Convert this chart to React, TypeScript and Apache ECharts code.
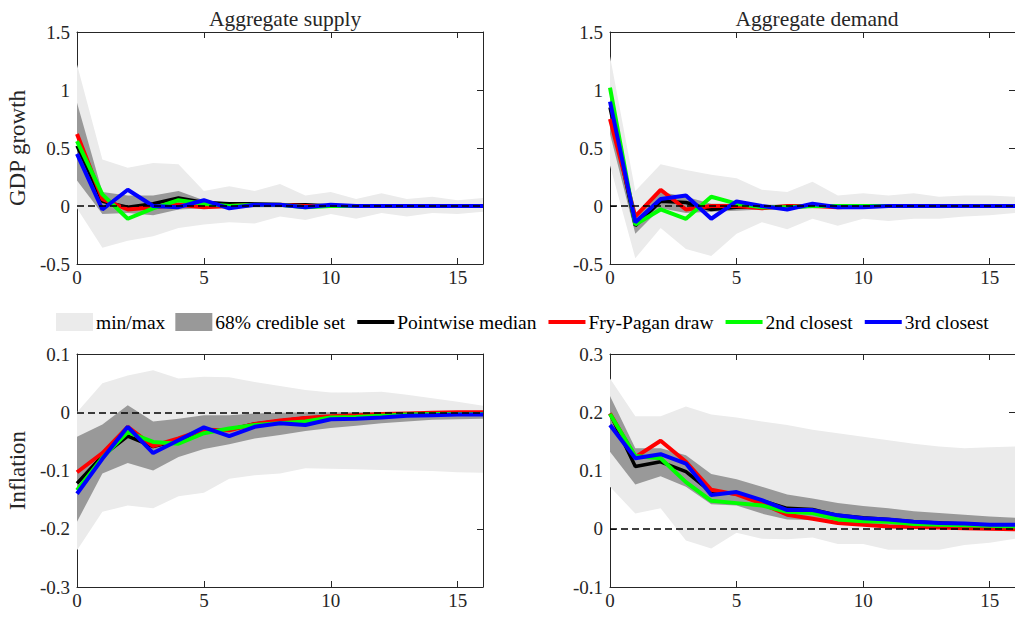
import React, { useEffect, useRef } from "react";
import * as echarts from "echarts";

const horizons = [0, 1, 2, 3, 4, 5, 6, 7, 8, 9, 10, 11, 12, 13, 14, 15, 16];
const panelTitles = ["Aggregate supply", "Aggregate demand"];
const rowNames = ["GDP growth", "Inflation"];
const legendNames = ["min/max", "68% credible set", "Pointwise median", "Fry-Pagan draw", "2nd closest", "3rd closest"];

// GDP growth, aggregate supply
const gsMinU = [1.22, 0.40, 0.33, 0.37, 0.36, 0.13, 0.17, 0.13, 0.19, 0.09, 0.12, 0.06, 0.11, 0.06, 0.08, 0.05, 0.07];
const gsMinL = [-0.02, -0.36, -0.30, -0.26, -0.19, -0.16, -0.14, -0.15, -0.09, -0.12, -0.07, -0.11, -0.06, -0.09, -0.06, -0.07, -0.05];
const gsCiU = [0.89, 0.12, 0.09, 0.09, 0.13, 0.05, 0.03, 0.03, 0.02, 0.02, 0.02, 0.01, 0.01, 0.01, 0.01, 0.01, 0.01];
const gsCiL = [0.22, -0.07, -0.06, -0.08, -0.03, -0.02, -0.02, -0.01, -0.01, -0.01, -0.01, -0.01, -0.01, -0.01, -0.01, -0.01, -0.01];
const gsMed = [0.52, 0.04, -0.01, 0.02, 0.07, 0.03, 0.02, 0.02, 0.01, 0.01, 0, 0, 0, 0, 0, 0, 0];
const gsFP = [0.62, 0.06, -0.03, -0.01, 0.01, -0.01, 0, 0.01, 0.01, 0, 0, 0, 0, 0, 0, 0, 0];
const gs2nd = [0.56, 0.10, -0.11, -0.02, 0.05, 0.02, 0, 0.01, 0.01, -0.01, 0, 0, 0, 0, 0, 0, 0];
const gs3rd = [0.45, -0.03, 0.14, 0.0, -0.01, 0.05, -0.02, 0.01, 0.01, -0.01, 0.01, 0, 0, 0, 0, 0, 0];

// GDP growth, aggregate demand
const gdMinU = [1.29, 0.13, 0.36, 0.31, 0.27, 0.24, 0.14, 0.12, 0.21, 0.09, 0.11, 0.09, 0.11, 0.08, 0.09, 0.09, 0.08];
const gdMinL = [0.35, -0.45, -0.19, -0.37, -0.43, -0.24, -0.14, -0.20, -0.11, -0.17, -0.11, -0.13, -0.11, -0.11, -0.09, -0.08, -0.06];
const gdCiU = [1.0, -0.09, 0.12, 0.08, 0.02, 0.02, 0.01, 0.01, 0.01, 0.01, 0.01, 0.01, 0.01, 0.01, 0.01, 0.01, 0.01];
const gdCiL = [0.62, -0.24, -0.02, -0.06, -0.05, -0.04, -0.03, -0.02, -0.02, -0.01, -0.01, -0.01, -0.01, -0.01, -0.01, -0.01, -0.01];
const gdMed = [0.85, -0.17, 0.04, 0.03, -0.03, -0.01, -0.01, -0.01, 0, 0, 0, 0, 0, 0, 0, 0, 0];
const gdFP = [0.75, -0.09, 0.14, -0.03, 0, 0, -0.02, 0, 0, -0.01, 0, 0, 0, 0, 0, 0, 0];
const gd2nd = [1.02, -0.16, -0.03, -0.11, 0.08, 0.02, -0.01, -0.01, 0, 0, 0, 0, 0, 0, 0, 0, 0];
const gd3rd = [0.90, -0.14, 0.06, 0.09, -0.11, 0.04, 0, -0.03, 0.02, -0.01, -0.01, 0, 0, 0, 0, 0, 0];

// Inflation, aggregate supply
const isMinU = [0.0, 0.05, 0.063, 0.072, 0.058, 0.061, 0.06, 0.052, 0.045, 0.038, 0.034, 0.034, 0.035, 0.03, 0.024, 0.018, 0.011];
const isMinL = [-0.237, -0.171, -0.16, -0.165, -0.144, -0.138, -0.114, -0.108, -0.105, -0.096, -0.097, -0.098, -0.099, -0.1, -0.101, -0.103, -0.104];
const isCiU = [-0.042, -0.021, 0.012, -0.016, -0.011, -0.005, -0.005, -0.002, -0.001, 0, 0, 0, 0, 0, 0, 0, 0];
const isCiL = [-0.188, -0.105, -0.087, -0.1, -0.077, -0.063, -0.055, -0.045, -0.039, -0.032, -0.027, -0.023, -0.019, -0.016, -0.013, -0.012, -0.011];
const isMed = [-0.122, -0.075, -0.041, -0.059, -0.048, -0.031, -0.03, -0.02, -0.015, -0.01, -0.008, -0.006, -0.005, -0.003, -0.002, -0.001, -0.001];
const isFP = [-0.103, -0.07, -0.025, -0.058, -0.045, -0.03, -0.031, -0.02, -0.014, -0.01, -0.007, -0.005, -0.003, -0.002, -0.001, 0, 0];
const is2nd = [-0.134, -0.078, -0.034, -0.051, -0.054, -0.036, -0.028, -0.022, -0.019, -0.016, -0.009, -0.008, -0.006, -0.004, -0.003, -0.003, -0.003];
const is3rd = [-0.14, -0.08, -0.025, -0.07, -0.048, -0.026, -0.041, -0.025, -0.019, -0.022, -0.012, -0.011, -0.009, -0.006, -0.005, -0.004, -0.004];

// Inflation, aggregate demand
const idMinU = [0.258, 0.193, 0.193, 0.21, 0.196, 0.191, 0.184, 0.178, 0.17, 0.164, 0.158, 0.152, 0.146, 0.141, 0.138, 0.14, 0.141];
const idMinL = [0.072, 0.026, 0.035, -0.02, -0.034, -0.007, -0.017, -0.018, -0.015, -0.026, -0.026, -0.036, -0.036, -0.036, -0.028, -0.024, -0.017];
const idCiU = [0.228, 0.138, 0.138, 0.126, 0.094, 0.085, 0.072, 0.059, 0.052, 0.044, 0.039, 0.035, 0.03, 0.027, 0.024, 0.021, 0.019];
const idCiL = [0.132, 0.076, 0.09, 0.072, 0.042, 0.04, 0.026, 0.016, 0.015, 0.012, 0.009, 0.006, 0.005, 0.004, 0.003, 0.003, 0.002];
const idMed = [0.198, 0.107, 0.115, 0.098, 0.063, 0.06, 0.048, 0.035, 0.033, 0.023, 0.019, 0.016, 0.012, 0.01, 0.008, 0.006, 0.005];
const idFP = [0.198, 0.123, 0.151, 0.115, 0.067, 0.059, 0.043, 0.024, 0.017, 0.01, 0.007, 0.004, 0.003, 0.002, 0.001, 0, -0.001];
const id2nd = [0.197, 0.125, 0.121, 0.08, 0.048, 0.044, 0.04, 0.029, 0.027, 0.016, 0.013, 0.012, 0.008, 0.007, 0.006, 0.005, 0.004];
const id3rd = [0.178, 0.121, 0.128, 0.112, 0.058, 0.063, 0.049, 0.032, 0.032, 0.023, 0.018, 0.016, 0.012, 0.01, 0.009, 0.007, 0.007];

const yRanges = [
  [-0.5, 1.5, 0.5],
  [-0.5, 1.5, 0.5],
  [-0.3, 0.1, 0.1],
  [-0.1, 0.3, 0.1],
];

const panels = [
  { minU: gsMinU, minL: gsMinL, ciU: gsCiU, ciL: gsCiL, lines: [gsMed, gsFP, gs2nd, gs3rd] },
  { minU: gdMinU, minL: gdMinL, ciU: gdCiU, ciL: gdCiL, lines: [gdMed, gdFP, gd2nd, gd3rd] },
  { minU: isMinU, minL: isMinL, ciU: isCiU, ciL: isCiL, lines: [isMed, isFP, is2nd, is3rd] },
  { minU: idMinU, minL: idMinL, ciU: idCiU, ciL: idCiL, lines: [idMed, idFP, id2nd, id3rd] },
];

const LIGHT = "#ebebeb";
const DARK = "#999999";
const LINE_COLORS = ["#000000", "#ff0000", "#00ff00", "#0000ff"];
const LINE_WIDTHS = [3.5, 4, 4, 4];
const AXIS = "#262626";
const FONT = "'Liberation Serif', 'Times New Roman', serif";

const grids = [
  { left: 77, top: 32, width: 406, height: 232 },
  { left: 610, top: 32, width: 405, height: 232 },
  { left: 77, top: 354, width: 406, height: 233 },
  { left: 610, top: 354, width: 405, height: 233 },
];

function band(gi: number, name: string, lo: number[], hi: number[], color: string, z: number) {
  return {
    type: "custom",
    name,
    xAxisIndex: gi * 2,
    yAxisIndex: gi * 2,
    silent: true,
    z,
    itemStyle: { color },
    data: horizons.map((h, i) => [h, lo[i], hi[i]]),
    encode: { x: 0, y: [1, 2] },
    renderItem: (params: any, api: any) => {
      if (params.dataIndexInside !== 0) return null;
      const pts: number[][] = [];
      horizons.forEach((h, i) => pts.push(api.coord([h, hi[i]])));
      for (let i = horizons.length - 1; i >= 0; i--) pts.push(api.coord([horizons[i], lo[i]]));
      return { type: "polygon", shape: { points: pts }, style: { fill: color, stroke: null } };
    },
  };
}

export default function App() {
  const ref = useRef<HTMLDivElement>(null);
  useEffect(() => {
    if (!ref.current) return;
    const chart = echarts.init(ref.current, null, { renderer: "svg" });

    const xAxes: any[] = [];
    const yAxes: any[] = [];
    grids.forEach((_, gi) => {
      const [ymin, ymax, yint] = yRanges[gi];
      const common = {
        gridIndex: gi,
        type: "value",
        splitLine: { show: false },
        axisLine: { show: true, onZero: false, lineStyle: { color: AXIS, width: 1 } },
        axisTick: { show: true, inside: true, length: 6, lineStyle: { color: AXIS } },
      };
      xAxes.push({
        ...common,
        position: "bottom",
        min: 0,
        max: 16,
        interval: 5,
        axisLabel: { show: true, showMaxLabel: false, margin: 4, color: AXIS, fontFamily: FONT, fontSize: 19 },
      });
      xAxes.push({ ...common, position: "top", min: 0, max: 16, interval: 5, axisLabel: { show: false } });
      yAxes.push({
        ...common,
        position: "left",
        min: ymin,
        max: ymax,
        interval: yint,
        name: gi % 2 === 0 ? rowNames[gi / 2] : "",
        nameLocation: "middle",
        nameGap: 48,
        nameTextStyle: { color: AXIS, fontFamily: FONT, fontSize: 23 },
        axisLabel: { show: true, margin: 7, color: AXIS, fontFamily: FONT, fontSize: 19 },
      });
      yAxes.push({ ...common, position: "right", min: ymin, max: ymax, interval: yint, axisLabel: { show: false } });
    });

    const series: any[] = [];
    panels.forEach((p, gi) => {
      series.push(band(gi, legendNames[0], p.minL, p.minU, LIGHT, 1));
      series.push(band(gi, legendNames[1], p.ciL, p.ciU, DARK, 2));
      p.lines.forEach((vals, li) => {
        series.push({
          type: "line",
          name: legendNames[2 + li],
          xAxisIndex: gi * 2,
          yAxisIndex: gi * 2,
          data: horizons.map((h, i) => [h, vals[i]]),
          symbol: "none",
          z: 3,
          color: LINE_COLORS[li],
          lineStyle: { color: LINE_COLORS[li], width: LINE_WIDTHS[li] },
          silent: true,
        });
      });
      series.push({
        type: "line",
        xAxisIndex: gi * 2,
        yAxisIndex: gi * 2,
        data: [],
        z: 5,
        silent: true,
        markLine: {
          silent: true,
          symbol: "none",
          label: { show: false },
          lineStyle: { color: "#000", width: 1.5, type: [7, 4] },
          data: [{ yAxis: 0 }],
        },
      });
    });

    const lineLegend = (i: number) => ({
      name: legendNames[i],
      itemStyle: { opacity: 0 },
      lineStyle: { width: 4, color: LINE_COLORS[i - 2] },
    });

    chart.setOption({
      animation: false,
      backgroundColor: "#ffffff",
      title: [
        { text: panelTitles[0], left: 280, textAlign: "center", top: 3, textStyle: { fontFamily: FONT, fontSize: 21.5, fontWeight: "normal", color: AXIS } },
        { text: panelTitles[1], left: 812, textAlign: "center", top: 3, textStyle: { fontFamily: FONT, fontSize: 21.5, fontWeight: "normal", color: AXIS } },
      ],
      legend: {
        left: 56,
        top: 312,
        padding: 0,
        itemWidth: 37,
        itemHeight: 18,
        itemGap: 10,
        selectedMode: false,
        textStyle: { fontFamily: FONT, fontSize: 19.5, color: "#000", padding: [0, 0, 0, -2] },
        data: [
          { name: legendNames[0], icon: "rect", itemStyle: { color: LIGHT } },
          { name: legendNames[1], icon: "rect", itemStyle: { color: DARK } },
          lineLegend(2),
          lineLegend(3),
          lineLegend(4),
          lineLegend(5),
        ],
      },
      grid: grids.map((g) => ({ ...g, containLabel: false })),
      xAxis: xAxes,
      yAxis: yAxes,
      series,
    });
    return () => chart.dispose();
  }, []);
  return <div ref={ref} style={{ position: "absolute", left: 0, top: 0, width: 1015, height: 617 }} />;
}
